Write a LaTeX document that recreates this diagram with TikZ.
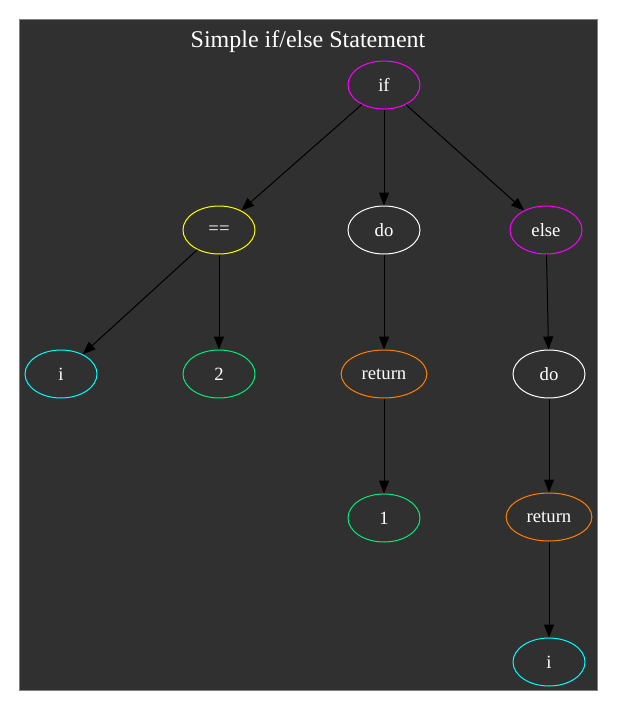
\documentclass[tikz,border=0pt]{standalone}
\usepackage{fontspec}
\setmainfont{Liberation Serif}
\usetikzlibrary{arrows.meta}
\usetikzlibrary{shapes.geometric}
\definecolor{bggray}{RGB}{48,48,48}
\definecolor{qgreen}{RGB}{0,238,118}
\definecolor{qorange}{RGB}{255,127,0}
\definecolor{qmagenta}{RGB}{255,0,255}
\definecolor{qcyan}{RGB}{0,255,255}
\definecolor{qyellow}{RGB}{255,255,0}

\tikzset{
  astnode/.style={ellipse, draw, line width=1pt, minimum width=72pt, minimum height=48pt,
    inner xsep=8pt, inner ysep=1pt, text=white, font=\fontsize{18.7}{20}\selectfont},
  astedge/.style={-{Triangle[length=13pt,width=10pt]}, line width=1pt, black},
}

\begin{document}
\begin{tikzpicture}[x=1pt,y=-1pt]
\useasboundingbox (0,0) rectangle (617,710);
\fill[white] (0,0) rectangle (617,710);
\draw[fill=bggray, draw=gray] (19,19) rectangle (597,690);
\node[text=white, font=\fontsize{24}{26}\selectfont] (title) at (308,42) {Simple if/else Statement};

\node[astnode, draw=qmagenta] (if) at (384,85) {if};
\node[astnode, draw=qyellow] (eq) at (219,230) {==};
\node[astnode, draw=white] (do1) at (384,230) {do};
\node[astnode, draw=qmagenta] (else) at (546,230) {else};
\node[astnode, draw=qcyan] (i1) at (61,374) {i};
\node[astnode, draw=qgreen] (two) at (219,374) {2};
\node[astnode, draw=qorange] (ret1) at (384,374) {return};
\node[astnode, draw=white] (do2) at (549,374) {do};
\node[astnode, draw=qgreen] (one) at (384,518) {1};
\node[astnode, draw=qorange] (ret2) at (549,517) {return};
\node[astnode, draw=qcyan] (i2) at (549,662) {i};

\draw[astedge] (if) -- (eq);
\draw[astedge] (if) -- (do1);
\draw[astedge] (if) -- (else);
\draw[astedge] (eq) -- (i1);
\draw[astedge] (eq) -- (two);
\draw[astedge] (do1) -- (ret1);
\draw[astedge] (ret1) -- (one);
\draw[astedge] (else) -- (do2);
\draw[astedge] (do2) -- (ret2);
\draw[astedge] (ret2) -- (i2);

\end{tikzpicture}
\end{document}
